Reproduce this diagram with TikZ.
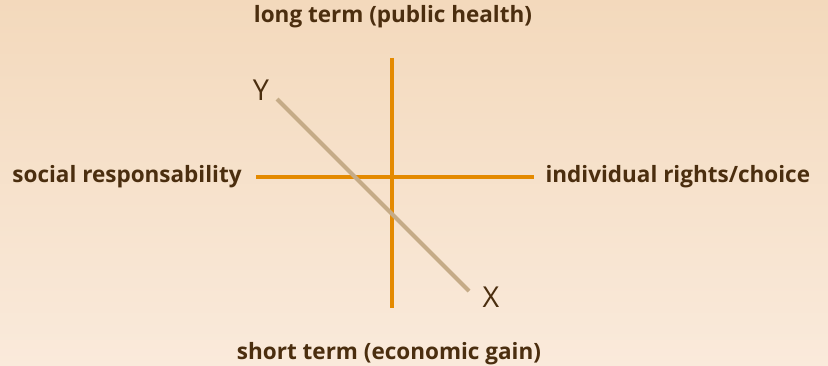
\documentclass[tikz,border=0pt]{standalone}
\usepackage{fontspec}
\setmainfont{Open Sans}
\usepackage{xcolor}
\usepackage{tikz}
\usetikzlibrary{positioning}
\definecolor{peachtop}{RGB}{243, 217, 188}
\definecolor{peachbottom}{RGB}{250, 234, 219}
\definecolor{axisorange}{RGB}{228, 138, 0}
\definecolor{pathtan}{RGB}{197, 171, 135}
\definecolor{textbrown}{RGB}{75, 46, 15}

\begin{document}
\begin{tikzpicture}[
    x=0.025cm, y=-0.025cm,
    pole/.style={font=\fontsize{16}{19}\selectfont\bfseries, text=textbrown, inner sep=0pt},
    endmark/.style={font=\fontsize{20.5}{24}\selectfont, text=textbrown, inner sep=0pt},
    axis/.style={draw=axisorange, line width=2.8pt},
    shiftline/.style={draw=pathtan, line width=2.8pt}
]
% Background
\useasboundingbox (0,0) rectangle (828,366);
\shade[top color=peachtop, bottom color=peachbottom] (0,0) rectangle (828,366);

% Axis ends
\coordinate (north) at (392,58);
\coordinate (south) at (392,308);
\coordinate (west) at (256,177);
\coordinate (east) at (534,177);

% Axis labels
\node[pole] (health) at (393,17) {long term (public health)};
\node[pole] (economy) at (389,354) {short term (economic gain)};
\node[pole, left=10pt of west] (social) {social responsability};
\node[pole, right=8pt of east] (rights) {individual rights/choice};

% Axes
\draw[axis] (west) -- (east);
\draw[axis] (north) -- (south);

% Shift from X to Y
\coordinate (ystart) at (277,99);
\coordinate (xend) at (469,291);
\draw[shiftline] (ystart) -- (xend);
\node[endmark] (ylabel) at (261,90) {Y};
\node[endmark] (xlabel) at (491,297) {X};
\end{tikzpicture}
\end{document}
